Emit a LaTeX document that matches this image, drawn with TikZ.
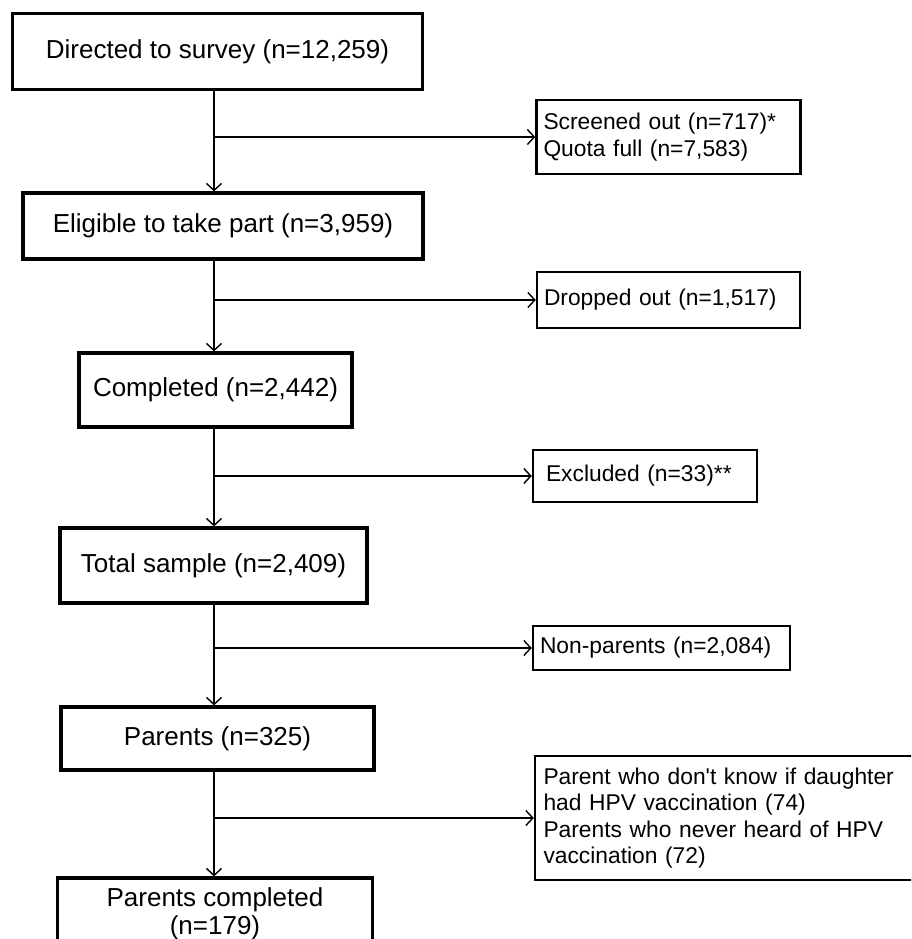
\documentclass[tikz,border=0pt]{standalone}
\usepackage{fontspec}
\setmainfont{Liberation Sans}
\usetikzlibrary{arrows.meta}

\tikzset{
    mainbox/.style={draw, line width=3.2pt, inner sep=0pt, align=center,
        font=\fontsize{26}{28}\selectfont},
    sidebox/.style={draw, line width=2.4pt, inner xsep=7pt, inner ysep=0pt, align=left,
        font=\fontsize{22.8}{26.5}\selectfont},
    flow/.style={line width=1.4pt, -{Straight Barb[length=7pt, width=15pt, line width=1.4pt]}}
}

\begin{document}
\begin{tikzpicture}[x=1pt, y=-1pt]
        \useasboundingbox (0, 0) rectangle (911, 939);
        \clip (0, 0) rectangle (911, 939);
        \node[mainbox, minimum width=410, minimum height=76] (dir) at (217.5, 51.5) {Directed to survey (n=12,259)};
        \node[mainbox, minimum width=400, minimum height=66] (elig) at (223, 226) {Eligible to take part (n=3,959)};
        \node[mainbox, minimum width=273, minimum height=74] (comp) at (215.5, 390) {Completed (n=2,442)};
        \node[mainbox, minimum width=307, minimum height=75] (total) at (213.5, 565.5) {Total sample (n=2,409)};
        \node[mainbox, minimum width=313, minimum height=63] (par) at (217.5, 738.5) {Parents (n=325)};
        \node[mainbox, minimum width=315, minimum height=72] (parcomp) at (215, 914) {Parents completed\\(n=179)};
        \node[sidebox, minimum width=264, minimum height=74, text width=250] (scr) at (668.5, 137) {Screened out (n=717)*\\Quota full (n=7,583)};
        \node[sidebox, minimum width=263, minimum height=56, text width=249] (drop) at (668.5, 300) {Dropped out (n=1,517)};
        \node[sidebox, minimum width=224, minimum height=52, inner xsep=13pt, text width=198] (excl) at (645, 476) {Excluded (n=33)**};
        \node[sidebox, minimum width=257, minimum height=44, text width=243] (nonpar) at (661.5, 648) {Non-parents (n=2,084)};
        \node[sidebox, minimum width=390, minimum height=124, inner xsep=8.5pt, text width=373] (unk) at (730, 818) {Parent who don\textquotesingle t know if daughter\\had HPV vaccination (74)\\Parents who never heard of HPV\\vaccination (72)};
        \coordinate (trunk) at (214, 0);
        \draw[flow] (dir.south -| trunk) -- (elig.north -| trunk);
        \draw[flow] (scr.west -| trunk) -- (scr.west);
        \draw[flow] (elig.south -| trunk) -- (comp.north -| trunk);
        \draw[flow] (drop.west -| trunk) -- (drop.west);
        \draw[flow] (comp.south -| trunk) -- (total.north -| trunk);
        \draw[flow] (excl.west -| trunk) -- (excl.west);
        \draw[flow] (total.south -| trunk) -- (par.north -| trunk);
        \draw[flow] (nonpar.west -| trunk) -- (nonpar.west);
        \draw[flow] (par.south -| trunk) -- (parcomp.north -| trunk);
        \draw[flow] (unk.west -| trunk) -- (unk.west);
    \end{tikzpicture}
\end{document}
